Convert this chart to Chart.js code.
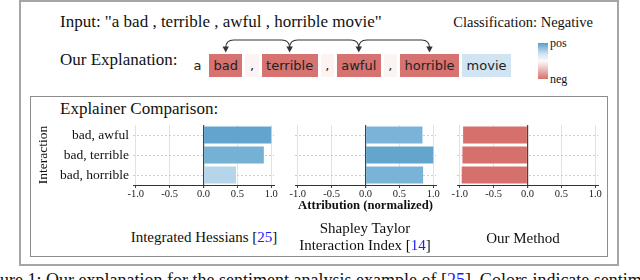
<!DOCTYPE html>
<html>
<head>
<meta charset="utf-8">
<script src="https://cdn.jsdelivr.net/npm/chart.js@4.4.0/dist/chart.umd.min.js"></script>
<style>
  html, body { margin: 0; padding: 0; background: #fff; }
  body {
    width: 640px; height: 280px; overflow: hidden; position: relative;
    font-family: 'Liberation Serif', 'Times New Roman', serif; color: #111;
  }
  .abs { position: absolute; white-space: nowrap; }
  .frame { position: absolute; box-sizing: border-box; }
  #outer { left: 19px; top: 0; width: 600px; height: 266px; border: 2px solid #a5a5a5; }
  #inner { left: 30px; top: 96px; width: 578px; height: 161px; border: 1.5px solid #8c8c8c; }
  .t17 { font-size: 17px; line-height: 17px; }
  .t15 { font-size: 15px; line-height: 15px; }
  .t14 { font-size: 14.5px; line-height: 14.5px; }
  .t12 { font-size: 12px; line-height: 12px; }
  .center { transform: translateX(-50%); text-align: center; }
  .cite { color: #1a1aff; }
  #tokens { position: absolute; left: 189px; top: 54px; display: flex; gap: 3px; }
  .tok {
    height: 23px; line-height: 23px; padding: 0 4.5px;
    font-family: 'DejaVu Sans', sans-serif; font-size: 13px; color: #222;
  }
  #legendBar {
    position: absolute; left: 538px; top: 43px; width: 10px; height: 36px;
    background: linear-gradient(to bottom, #5b9dca 0%, #cfe2f0 30%, #fbfbfb 50%, #f3d3d2 65%, #d5706c 100%);
  }
  canvas { position: absolute; }
  #arrows { position: absolute; left: 0; top: 0; }
</style>
</head>
<body>
<div id="outer" class="frame"></div>
<div id="inner" class="frame"></div>

<div class="abs t17" style="left:60px; top:12.8px;">Input: "a bad , terrible , awful , horrible movie"</div>
<div class="abs t14" style="right:47px; top:14.9px;">Classification: Negative</div>
<div class="abs t17" style="left:60px; top:50.8px;">Our Explanation:</div>
<div id="tokens"></div>
<svg id="arrows" width="640" height="100"></svg>
<div id="legendBar"></div>
<div class="abs t12" style="left:550px; top:37px;">pos</div>
<div class="abs t12" style="left:550px; top:73px;">neg</div>

<div class="abs t17" style="left:60px; top:99.8px;">Explainer Comparison:</div>

<canvas id="ihChart" width="251" height="100" style="left:33px; top:113px;"></canvas>
<canvas id="stiChart" width="171" height="100" style="left:275px; top:113px;"></canvas>
<canvas id="ourChart" width="171" height="100" style="left:437px; top:113px;"></canvas>

<div class="abs t15 center" style="left:204px; top:230.4px;">Integrated Hessians [<span class="cite">25</span>]</div>
<div class="abs t15 center" style="left:365px; top:221.4px;">Shapley Taylor</div>
<div class="abs t15 center" style="left:365px; top:238.4px;">Interaction Index [<span class="cite">14</span>]</div>
<div class="abs t15 center" style="left:523px; top:231.4px;">Our Method</div>

<div class="abs" style="left:-24px; top:271px; font-size:18px; line-height:18px;">Figure 1: Our explanation for the sentiment analysis example of [<span class="cite">25</span>]. Colors indicate sentiment</div>

<script>
// explanation row
const tokens = ["a", "bad", ",", "terrible", ",", "awful", ",", "horrible", "movie"];
const tokenScores = [0, -0.95, -0.08, -0.95, -0.08, -0.95, -0.08, -0.95, 0.3];
const tokenLinks = [[1, 3], [3, 5], [5, 7]];

// explainer comparison
const interactions = ["bad, awful", "bad, terrible", "bad, horrible"];
const ihValues = [1.0, 0.89, 0.48];
const stiValues = [0.84, 1.0, 0.85];
const ourValues = [-0.95, -0.96, -0.97];

const SERIF = "'Liberation Serif', 'Times New Roman', serif";

function tokenColor(s) {
  const base = s < 0 ? [212, 108, 104] : [100, 165, 207];
  const t = Math.min(1, Math.abs(s));
  const c = base.map((b) => Math.round(255 + (b - 255) * t));
  return `rgb(${c.join(",")})`;
}

// build tokens
const row = document.getElementById("tokens");
tokens.forEach((w, i) => {
  const el = document.createElement("div");
  el.className = "tok";
  el.textContent = w;
  el.style.background = tokenColor(tokenScores[i]);
  row.appendChild(el);
});

// interaction arrows, placed from the token boxes
function drawArrows() {
  const svg = document.getElementById("arrows");
  const ns = "http://www.w3.org/2000/svg";
  const boxes = Array.from(row.children).map((el) => el.getBoundingClientRect());
  const tipY = boxes[0].top - 1.5;
  const topY = 40;
  const r = 8;
  const centers = boxes.map((b) => (b.left + b.right) / 2);
  const heads = new Set();
  tokenLinks.forEach(([a, b]) => {
    const x1 = centers[a], x2 = centers[b];
    const p = document.createElementNS(ns, "path");
    p.setAttribute("d",
      `M ${x1} ${tipY - 4} L ${x1} ${topY + r} Q ${x1} ${topY} ${x1 + r} ${topY} ` +
      `L ${x2 - r} ${topY} Q ${x2} ${topY} ${x2} ${topY + r} L ${x2} ${tipY - 4}`);
    p.setAttribute("fill", "none");
    p.setAttribute("stroke", "#333");
    p.setAttribute("stroke-width", "1.2");
    svg.appendChild(p);
    heads.add(a); heads.add(b);
  });
  heads.forEach((i) => {
    const x = centers[i];
    const h = document.createElementNS(ns, "path");
    h.setAttribute("d", `M ${x - 3.2} ${tipY - 6} L ${x + 3.2} ${tipY - 6} L ${x} ${tipY} Z`);
    h.setAttribute("fill", "#333");
    svg.appendChild(h);
  });
}
drawArrows();

function makeChart(id, values, colors, withLabels, xTitle) {
  const yw = withLabels ? 100 : 20;
  return new Chart(document.getElementById(id), {
    type: "bar",
    data: {
      labels: interactions,
      datasets: [{
        data: values,
        backgroundColor: colors,
        borderWidth: 0,
        barPercentage: 0.85,
        categoryPercentage: 1,
      }],
    },
    options: {
      indexAxis: "y",
      responsive: false,
      animation: false,
      layout: { padding: { top: 12, right: 10, left: 0, bottom: 0 } },
      plugins: { legend: { display: false }, tooltip: { enabled: false } },
      scales: {
        x: {
          min: -1.04,
          max: 1.04,
          afterFit: (s) => { s.height = 28; },
          ticks: {
            stepSize: 0.5,
            includeBounds: false,
            padding: 0,
            maxRotation: 0,
            autoSkip: false,
            color: "#222",
            font: { family: SERIF, size: 10.5 },
            callback: (v) => Number(v).toFixed(1),
          },
          grid: {
            color: (ctx) => (ctx.tick && ctx.tick.value === 0 ? "#444" : "#e2e2e2"),
            lineWidth: (ctx) => (ctx.tick && ctx.tick.value === 0 ? 1.2 : 1),
            tickColor: "#444",
            tickLength: 3,
          },
          border: { display: true, color: "#333", width: 1 },
          title: {
            display: !!xTitle,
            text: xTitle || "",
            padding: 0,
            color: "#111",
            font: { family: SERIF, size: 12.7, weight: "bold" },
          },
        },
        y: {
          afterFit: (s) => { s.width = yw; },
          ticks: {
            display: withLabels,
            padding: 4,
            color: "#111",
            font: { family: SERIF, size: 13.5 },
          },
          grid: { offset: false, drawTicks: false, color: "#c4c4c4", lineWidth: 0.8 },
          border: { display: false, dash: [2, 2] },
          title: {
            display: withLabels,
            text: "Interaction",
            padding: { top: 2, bottom: 0 },
            color: "#111",
            font: { family: SERIF, size: 13.5 },
          },
        },
      },
    },
  });
}

makeChart("ihChart", ihValues, ["#62a4ce", "#75b0d5", "#b6d5ea"], true);
makeChart("stiChart", stiValues, ["#79b3d7", "#64a5cd", "#79b3d7"], false, "Attribution (normalized)");
makeChart("ourChart", ourValues, ["#d5706c", "#d5706c", "#d5706c"], false);
</script>
</body>
</html>
